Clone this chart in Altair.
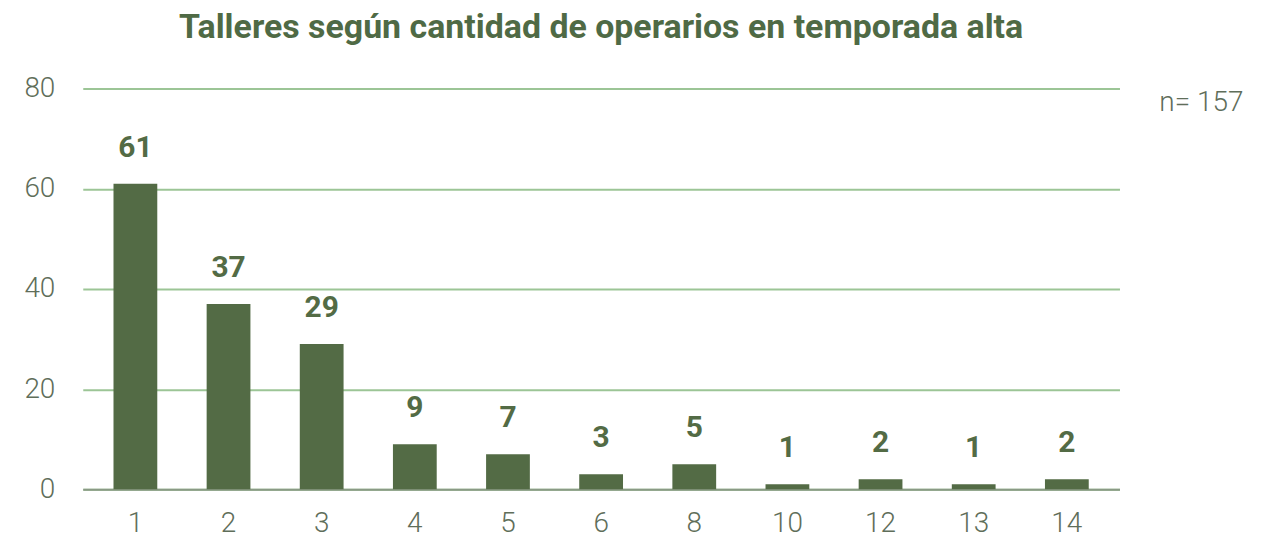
import altair as alt
import pandas as pd

categorias = ["1", "2", "3", "4", "5", "6", "8", "10", "12", "13", "14"]
talleres = [61, 37, 29, 9, 7, 3, 5, 1, 2, 1, 2]
titulo = "Talleres según cantidad de operarios en temporada alta"
nota = "n= 157"

df = pd.DataFrame({"operarios": categorias, "talleres": talleres})

FONT = "Roboto"
GREEN = "#536b45"
TEXT = "#5f6e5a"

x = alt.X("operarios:N", sort=categorias, title=None,
          scale=alt.Scale(paddingInner=0.53, paddingOuter=0.33),
          axis=alt.Axis(labelAngle=0, labelFontSize=28, labelColor=TEXT, labelFont=FONT,
                        labelFontWeight=300, ticks=False, labelPadding=20,
                        domainColor="#8a9a85", domainWidth=2))
y = alt.Y("talleres:Q", title=None,
          scale=alt.Scale(domain=[0, 80]),
          axis=alt.Axis(values=[0, 20, 40, 60, 80], labelFontSize=28, labelColor=TEXT,
                        labelFont=FONT, labelFontWeight=300, ticks=False, domain=False,
                        labelPadding=28, gridColor="#9cc596", gridWidth=2))

bars = alt.Chart(df).mark_bar(color=GREEN).encode(x=x, y=y)
labels = alt.Chart(df).mark_text(dy=-36, fontSize=30, fontWeight="bold", font=FONT,
                                 color=GREEN).encode(x=alt.X("operarios:N", sort=categorias),
                                                     y="talleres:Q", text="talleres:Q")
note = alt.Chart(pd.DataFrame({"t": [nota]})).mark_text(
    align="left", fontSize=28, font=FONT, fontWeight=300, color=TEXT
).encode(x=alt.value(1080), y=alt.value(14), text="t:N")

chart = alt.layer(bars, labels, note).properties(
    width=1040, height=402,
    title=alt.TitleParams(titulo, fontSize=34, font=FONT, fontWeight="bold", color="#4f6a45",
                          anchor="middle", offset=30),
    autosize=alt.AutoSizeParams(type="none"),
    padding={"left": 75, "top": 80, "right": 150, "bottom": 60},
).configure_view(stroke=None)

chart.save("out.html", embed_options={"renderer": "svg", "actions": False})
